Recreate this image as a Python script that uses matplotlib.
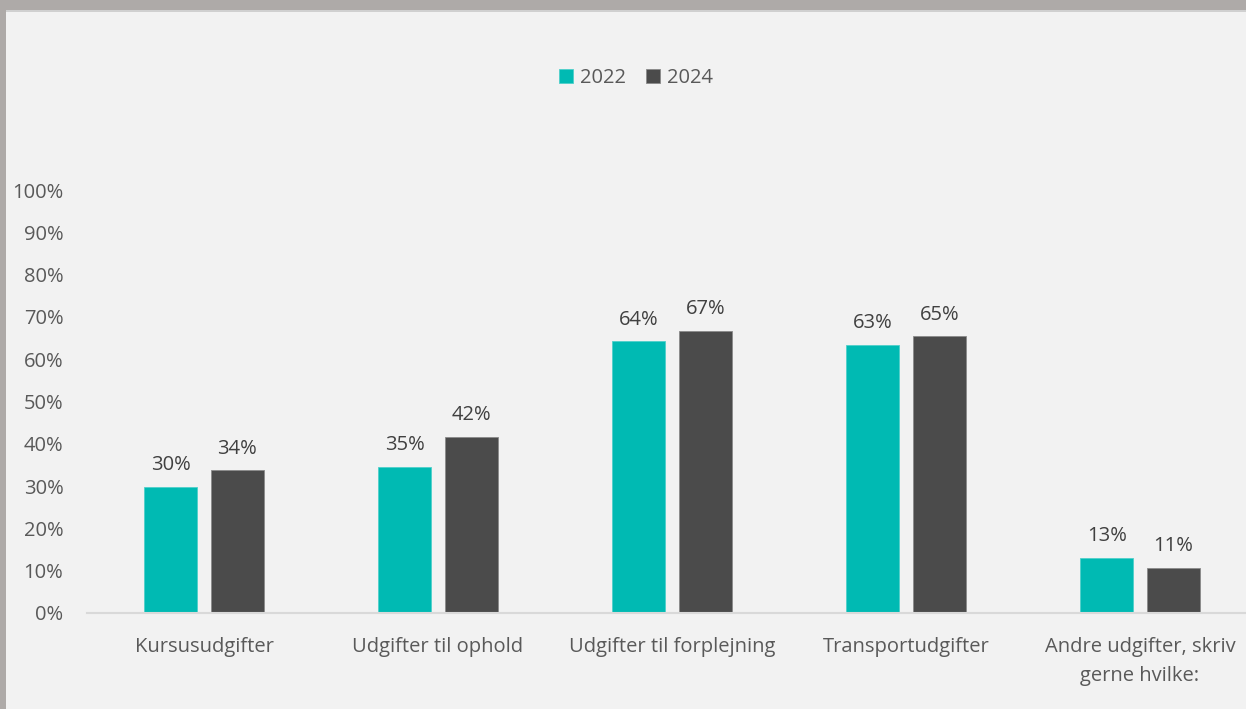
import matplotlib
matplotlib.use("Agg")
import matplotlib.pyplot as plt
from matplotlib.patches import Rectangle
import numpy as np

categories = ["Kursusudgifter", "Udgifter til ophold", "Udgifter til forplejning",
              "Transportudgifter", "Andre udgifter, skriv\ngerne hvilke:"]
series_names = ["2022", "2024"]
values_2022 = [0.298, 0.346, 0.642, 0.634, 0.131]
values_2024 = [0.337, 0.417, 0.667, 0.654, 0.107]
labels_2022 = ["30%", "35%", "64%", "63%", "13%"]
labels_2024 = ["34%", "42%", "67%", "65%", "11%"]
yticks = [0, 0.1, 0.2, 0.3, 0.4, 0.5, 0.6, 0.7, 0.8, 0.9, 1.0]
ytick_labels = ["0%", "10%", "20%", "30%", "40%", "50%", "60%", "70%", "80%", "90%", "100%"]

plt.rcParams['font.family'] = ['Open Sans', 'DejaVu Sans']
W, H = 1246, 709
fig = plt.figure(figsize=(W/100, H/100), dpi=100)
fig.patch.set_facecolor("#F2F2F2")

# frame bands
fig.patches.append(Rectangle((0, 1 - 10/H), 1, 10/H, transform=fig.transFigure,
                             facecolor="#AEAAA8", edgecolor="none", zorder=0))
fig.patches.append(Rectangle((0, 1 - 12/H), 1, 2/H, transform=fig.transFigure,
                             facecolor="#D0D0D0", edgecolor="none", zorder=0))
fig.patches.append(Rectangle((0, 0), 6/W, 1, transform=fig.transFigure,
                             facecolor="#AEAAA8", edgecolor="none", zorder=0))

x0, x1 = 87, 1257
y0, y1 = 613, 190
ax = fig.add_axes([x0/W, 1 - y0/H, (x1-x0)/W, (y0-y1)/H])
ax.set_facecolor("none")

x = np.arange(len(categories))
bw = 0.226
off = 0.142
teal = "#00BAB3"
dark = "#4B4B4B"
txt = "#595959"
fs = 14.5
b1 = ax.bar(x - off, values_2022, bw, color=teal, edgecolor="#4FD0CA", linewidth=0.6, label=series_names[0])
b2 = ax.bar(x + off, values_2024, bw, color=dark, edgecolor="#8A8A8A", linewidth=0.6, label=series_names[1])
for rect, lab in zip(b1, labels_2022):
    ax.text(rect.get_x() + rect.get_width()/2, rect.get_height() + 0.028, lab,
            ha="center", va="bottom", fontsize=fs, color="#404040")
for rect, lab in zip(b2, labels_2024):
    ax.text(rect.get_x() + rect.get_width()/2, rect.get_height() + 0.028, lab,
            ha="center", va="bottom", fontsize=fs, color="#404040")

ax.set_xlim(-0.5, len(categories) - 0.5)
ax.set_ylim(0, 1.0)
ax.set_yticks(yticks)
ax.set_yticklabels(ytick_labels)
ax.set_xticks(x)
ax.set_xticklabels(categories)
ax.tick_params(axis="y", length=0, labelsize=fs, labelcolor=txt, pad=17)
ax.tick_params(axis="x", length=0, labelsize=fs, labelcolor=txt, pad=17)
for t in ax.get_xticklabels():
    t.set_linespacing(1.6)
for s in ["top", "right", "left"]:
    ax.spines[s].set_visible(False)
ax.spines["bottom"].set_color("#D9D9D9")
ax.spines["bottom"].set_linewidth(1.5)
ax.spines["bottom"].set_clip_on(False)

leg = fig.legend(handles=[b1, b2], labels=series_names, loc="center",
                 bbox_to_anchor=(636/W, 1 - 78/H), ncol=2, frameon=False,
                 fontsize=fs, handlelength=0.7, handleheight=0.7,
                 handletextpad=0.35, columnspacing=1.0)
for t in leg.get_texts():
    t.set_color(txt)

fig.savefig("out.png", dpi=100, facecolor=fig.get_facecolor())
